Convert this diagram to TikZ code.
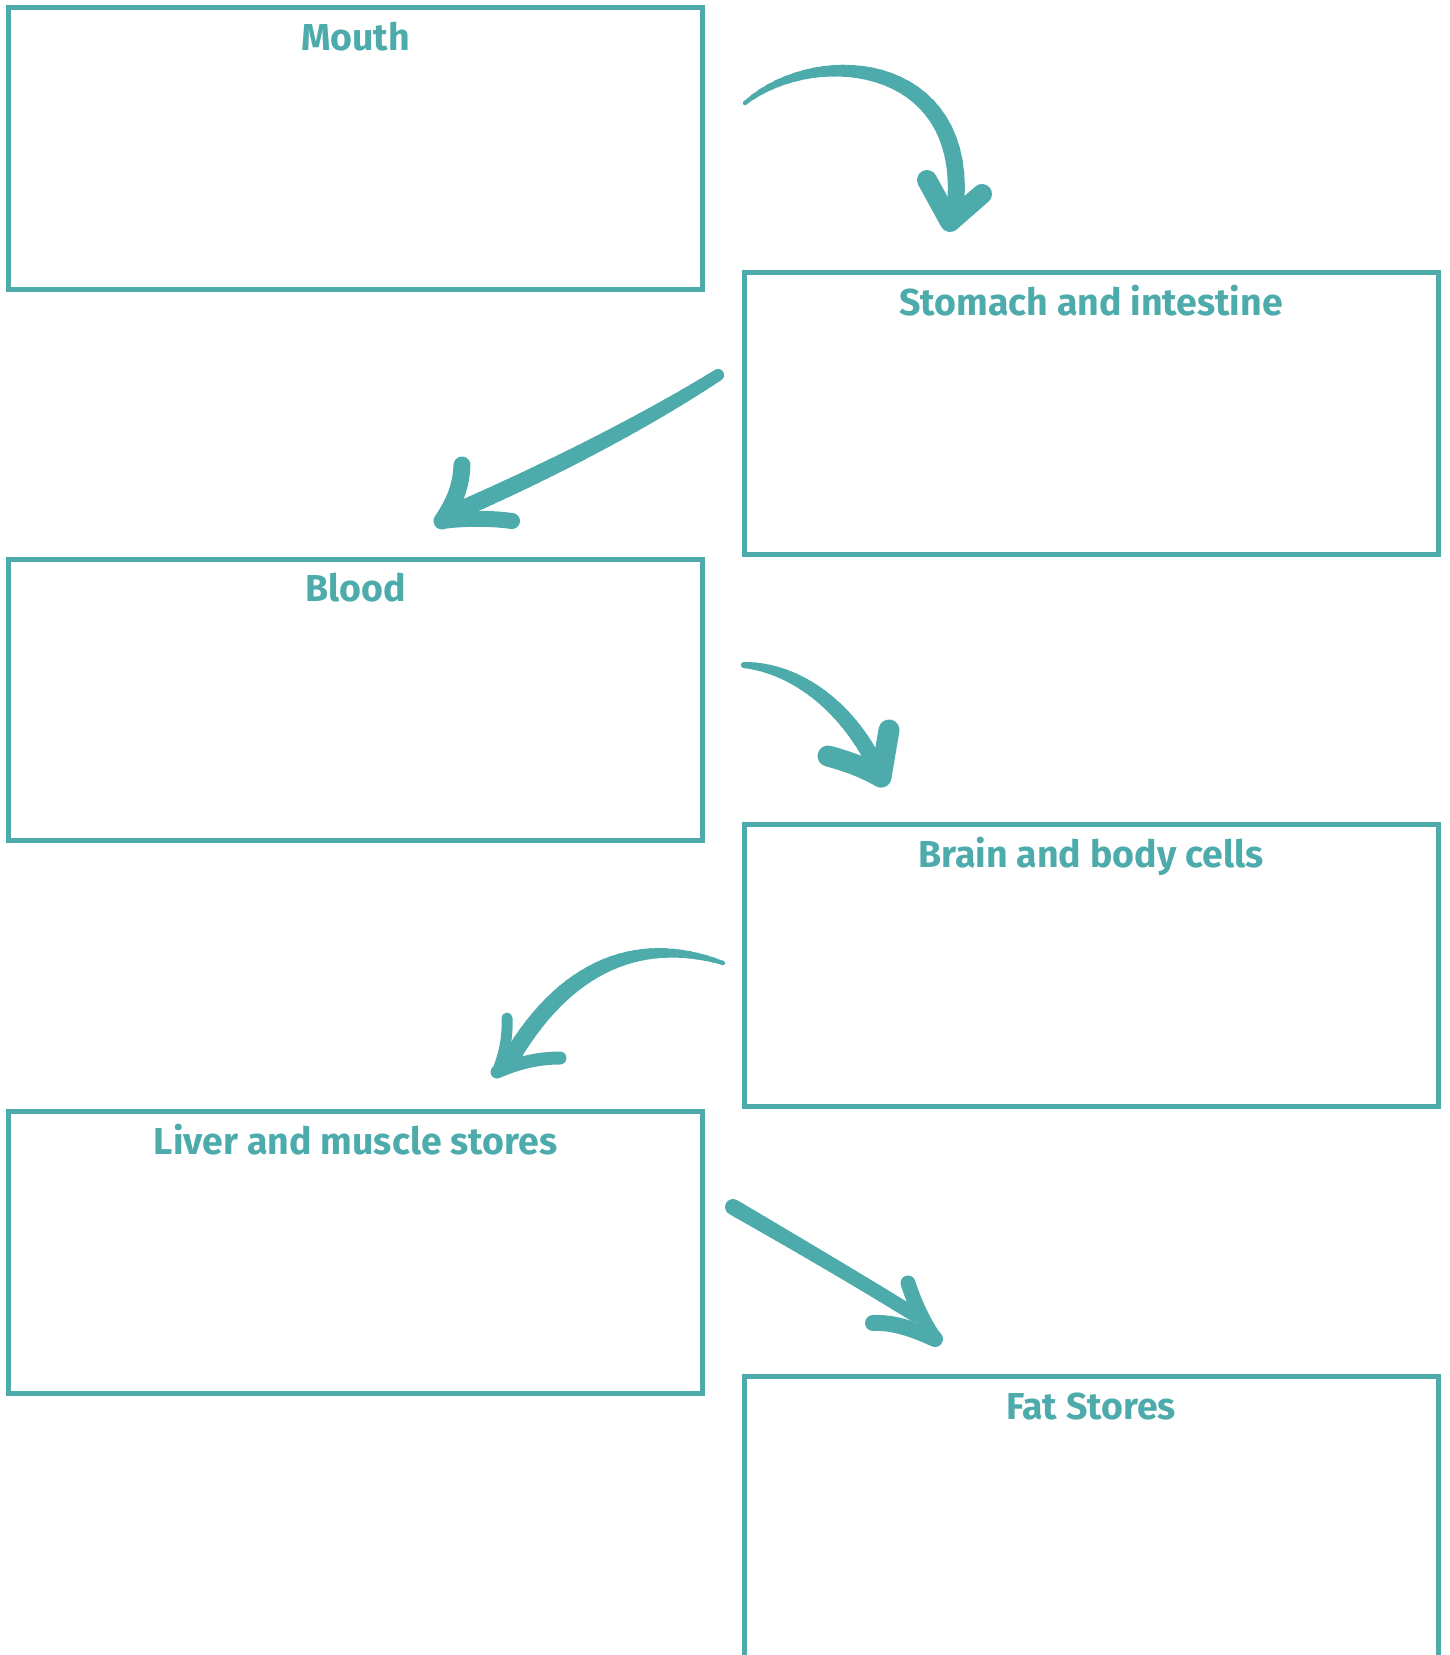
\documentclass[tikz,border=0pt]{standalone}
\usepackage{fontspec}
\setmainfont{Fira Sans}
\usetikzlibrary{calc}
\definecolor{tealc}{RGB}{77,171,171}
\tikzset{
  box/.style={draw=tealc, line width=5pt, minimum width=694pt, minimum height=281.5pt, inner sep=0pt, outer sep=0pt},
  boxlabel/.style={text=tealc, font=\bfseries\fontsize{37.5}{42}\selectfont, anchor=base, inner sep=0pt},
  head/.style={draw=tealc, line cap=round, line join=round},
}
\newcommand{\tapercurve}[6]{%
  \foreach \k in {0,...,30}{%
    \pgfmathsetmacro{\p}{\k/30}%
    \path (#1) .. controls (#2) and (#3) .. (#4) coordinate[pos=\p] (tc\k);
  }%
  \foreach \k in {0,...,29}{%
    \pgfmathsetmacro{\s}{(\k+0.5)/30}%
    \pgfmathsetmacro{\w}{#5+(#6-#5)*(1-(1-\s)^2)}%
    \pgfmathtruncatemacro{\kk}{\k+1}%
    \draw[tealc, line cap=round, line width=\w pt] (tc\k) -- (tc\kk);
  }%
}
\begin{document}
\begin{tikzpicture}[x=1pt, y=-1pt]
\useasboundingbox (0,0) rectangle (1450,1655);
\clip (0,0) rectangle (1450,1655);
% boxes
\node[box] (mouth)   at (355.5,148.25)  {};
\node[box] (stomach) at (1091,413.25)   {};
\node[box] (blood)   at (355.5,699.75)  {};
\node[box] (brain)   at (1091,965.25)   {};
\node[box] (liver)   at (355.5,1252.25) {};
\node[box] (fat)     at (1091,1517.25)  {};
% labels
\node[boxlabel] (lmouth)   at ($(mouth.north)+(0,42.5)$)   {Mouth};
\node[boxlabel] (lstomach) at ($(stomach.north)+(0,42.5)$) {Stomach and intestine};
\node[boxlabel] (lblood)   at ($(blood.north)+(0,42.5)$)   {Blood};
\node[boxlabel] (lbrain)   at ($(brain.north)+(0,42.5)$)   {Brain and body cells};
\node[boxlabel] (lliver)   at ($(liver.north)+(0,42.5)$)   {Liver and muscle stores};
\node[boxlabel] (lfat)     at ($(fat.north)+(0,42.5)$)     {Fat Stores};
% arrow 1: mouth -> stomach
\coordinate (a1s) at (745,103);
\coordinate (a1c) at (815,45);
\coordinate (a1d) at (965,58);
\coordinate (a1e) at (956,200);
\coordinate (a1t) at (950,222);
\coordinate (a1l) at (927,180);
\coordinate (a1r) at (982,194);
\tapercurve{a1s}{a1c}{a1d}{a1e}{4}{17}
\draw[head, line width=20pt] (a1l) -- (a1t) -- (a1r);
% arrow 2: stomach -> blood
\coordinate (a2s) at (718,375);
\coordinate (a2c) at (640,425);
\coordinate (a2d) at (540,475);
\coordinate (a2e) at (455,512);
\coordinate (a2t) at (442,521);
\coordinate (a2u) at (462,465);
\coordinate (a2r) at (512,521);
\tapercurve{a2s}{a2c}{a2d}{a2e}{12}{17}
\draw[head, line width=17pt] (a2u) .. controls (461,490) and (452,506) .. (a2t);
\draw[head, line width=16pt] (a2r) .. controls (490,518) and (465,518) .. (a2t);
% arrow 3: blood -> brain
\coordinate (a3s) at (744,665);
\coordinate (a3c) at (795,668);
\coordinate (a3d) at (845,705);
\coordinate (a3e) at (874,762);
\coordinate (a3t) at (881,777);
\coordinate (a3l) at (828,756);
\coordinate (a3r) at (889,730);
\tapercurve{a3s}{a3c}{a3d}{a3e}{6}{16}
\draw[head, line width=21pt] (a3l) .. controls (850,762) and (865,768) .. (a3t);
\draw[head, line width=21pt] (a3r) -- (a3t);
% arrow 4: brain -> liver
\coordinate (a4s) at (723,963);
\coordinate (a4c) at (640,935);
\coordinate (a4d) at (565,965);
\coordinate (a4e) at (510,1060);
\coordinate (a4t) at (497,1072);
\coordinate (a4u) at (507,1018);
\coordinate (a4r) at (560,1058);
\tapercurve{a4s}{a4c}{a4d}{a4e}{4}{17}
\draw[head, line width=11pt] (a4u) .. controls (508,1040) and (503,1058) .. (a4t);
\draw[head, line width=13pt] (a4r) .. controls (540,1058) and (520,1062) .. (a4t);
% arrow 5: liver -> fat
\coordinate (a5s) at (733,1207);
\coordinate (a5c) at (790,1240);
\coordinate (a5d) at (850,1275);
\coordinate (a5e) at (915,1315);
\coordinate (a5t) at (935,1339);
\coordinate (a5u) at (908,1283);
\coordinate (a5r) at (873,1323);
\tapercurve{a5s}{a5c}{a5d}{a5e}{16}{14}
\draw[head, line width=15pt] (a5u) .. controls (915,1305) and (925,1325) .. (a5t);
\draw[head, line width=16pt] (a5r) .. controls (895,1322) and (915,1330) .. (a5t);
\end{tikzpicture}
\end{document}
